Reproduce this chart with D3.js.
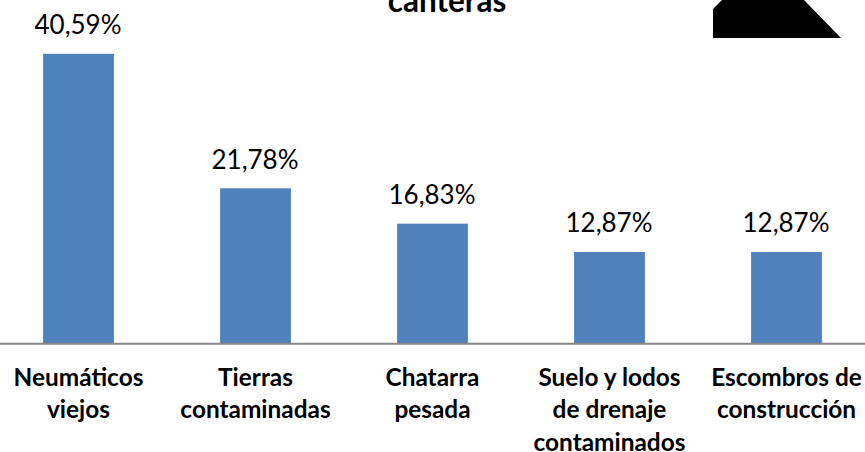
<!DOCTYPE html>
<html><head><meta charset="utf-8">
<script src="https://cdn.jsdelivr.net/npm/d3@7"></script>
<style>html,body{margin:0;padding:0;background:#fff}svg{display:block}text{font-family:Lato,sans-serif}</style>
</head><body><div id="c"></div>
<script>
const categories = ["Neumáticos viejos","Tierras contaminadas","Chatarra pesada","Suelo y lodos de drenaje contaminados","Escombros de construcción"];
const categoryLines = [["Neumáticos","viejos"],["Tierras","contaminadas"],["Chatarra","pesada"],["Suelo y lodos","de drenaje","contaminados"],["Escombros de","construcción"]];
const values = [40.59,21.78,16.83,12.87,12.87];
const titleLines = ["canteras"];
const W=865,H=452;
const svg=d3.select("#c").append("svg").attr("width",W).attr("height",H);
const x=d3.scaleBand().domain(categories).range([-10,875]).paddingInner(0.6).paddingOuter(0.3);
const y=d3.scaleLinear().domain([0,40.59]).range([344,53.8]);
svg.selectAll("rect.bar").data(values).join("rect").attr("class","bar")
  .attr("x",(d,i)=>x(categories[i])).attr("width",x.bandwidth())
  .attr("y",d=>y(d)).attr("height",d=>y(0)-y(d)).attr("fill","#4f81bd");
svg.append("line").attr("x1",0).attr("x2",W).attr("y1",343.7).attr("y2",343.7).attr("stroke","#868686").attr("stroke-width",2);
svg.selectAll("text.val").data(values).join("text").attr("class","val")
  .attr("x",(d,i)=>x(categories[i])+x.bandwidth()/2-0.5).attr("y",d=>y(d)-19.5)
  .attr("text-anchor","middle").attr("font-size",26).attr("fill","#000")
  .text(d=>d.toFixed(2).replace(".",",")+"%");
categoryLines.forEach((ls,i)=>{
  ls.forEach((l,j)=>svg.append("text").attr("x",x(categories[i])+x.bandwidth()/2).attr("y",386+j*32.4)
    .attr("text-anchor","middle").attr("font-size",24.4).attr("font-weight",700).attr("fill","#000").text(l));
});
svg.append("text").attr("x",447).attr("y",12).attr("text-anchor","middle").attr("font-size",31.5).attr("font-weight",700).text(titleLines[0]);
svg.append("path").attr("d",d3.line()([[713,38],[713,9],[722,0],[804,0],[841,38]])+"Z").attr("fill","#000");
</script></body></html>
